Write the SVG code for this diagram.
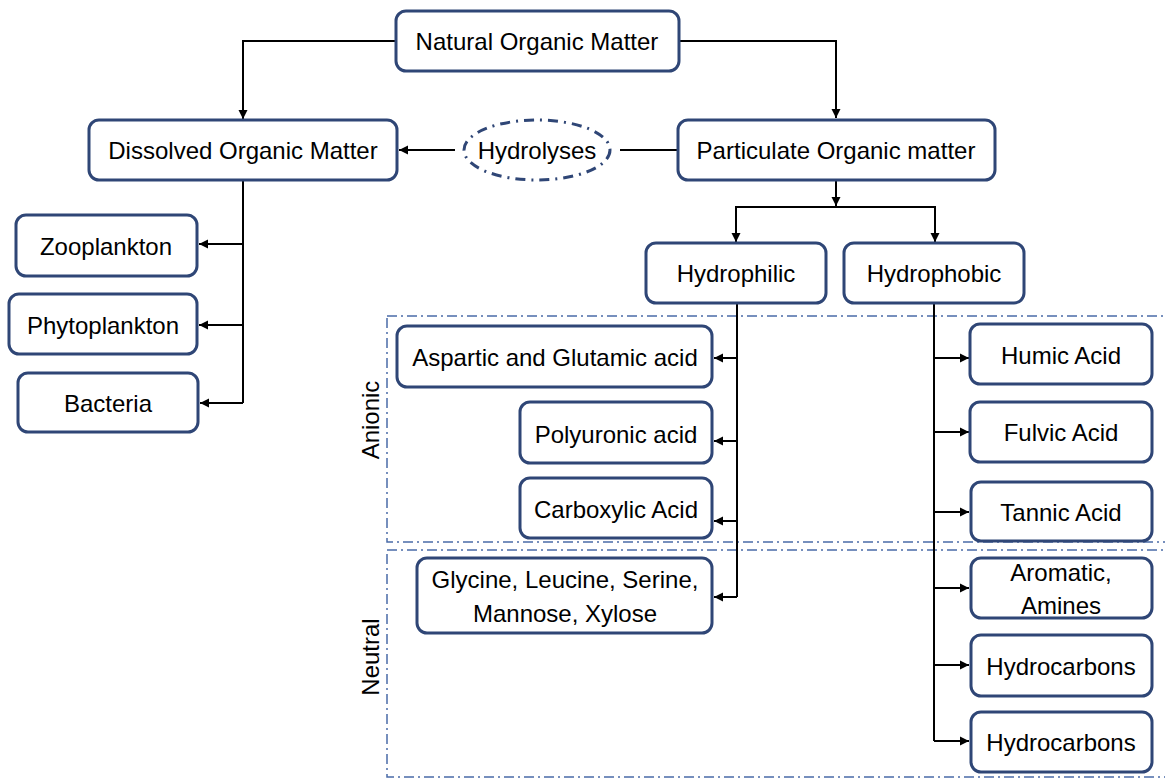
<svg xmlns="http://www.w3.org/2000/svg" width="1165" height="779" viewBox="0 0 1165 779">
<defs>
<marker id="ah" markerWidth="10" markerHeight="10" refX="9" refY="5" orient="auto" markerUnits="userSpaceOnUse">
<path d="M0,0.5 L9,5 L0,9.5 z" fill="#000"/>
</marker>
<style>
.box{fill:#fff;stroke:#2F4676;stroke-width:3}
.t{font-family:"Liberation Sans",Arial,sans-serif;font-size:24px;fill:#000;text-anchor:middle;dominant-baseline:central}
.c{fill:none;stroke:#000;stroke-width:2}
.a{marker-end:url(#ah)}
.zone{fill:none;stroke:#4A6BA8;stroke-width:1.5;stroke-dasharray:10,4,2,4}
</style>
</defs>
<rect width="1165" height="779" fill="#fff"/>
<g id="zones">
<rect class="zone" x="387" y="316" width="790" height="226"/>
<rect class="zone" x="387" y="550" width="790" height="227"/>
<text class="t" transform="translate(370,420) rotate(-90)">Anionic</text>
<text class="t" transform="translate(370,657) rotate(-90)">Neutral</text>
</g>
<g id="connectors">
<path class="c a" d="M396,41 H243 V119"/>
<path class="c a" d="M679,41 H836 V118"/>
<path class="c a" d="M455,150 H399"/>
<path class="c" d="M620,150 H678"/>
<path class="c a" d="M836,180 V206"/>
<path class="c a" d="M836,207 H736 V242"/>
<path class="c a" d="M836,207 H935 V242"/>
<path class="c" d="M243,180 V403"/>
<path class="c a" d="M243,244 H199"/>
<path class="c a" d="M243,325 H199"/>
<path class="c a" d="M243,403 H200"/>
<path class="c" d="M737,303 V597"/>
<path class="c a" d="M737,358 H714"/>
<path class="c a" d="M737,441 H714"/>
<path class="c a" d="M737,521 H714"/>
<path class="c a" d="M737,597 H714"/>
<path class="c" d="M934,303 V741"/>
<path class="c a" d="M934,358 H969"/>
<path class="c a" d="M934,432 H969"/>
<path class="c a" d="M934,512 H969"/>
<path class="c a" d="M934,588 H969"/>
<path class="c a" d="M934,665 H969"/>
<path class="c a" d="M934,741 H969"/>
</g>
<g id="nom"><rect class="box" x="396" y="11" width="283" height="60" rx="10"/><text class="t" x="537" y="41">Natural Organic Matter</text></g>
<g id="dom"><rect class="box" x="89" y="120" width="308" height="60" rx="10"/><text class="t" x="243" y="150">Dissolved Organic Matter</text></g>
<g id="hydrolyses"><ellipse cx="537" cy="150" rx="73" ry="30" fill="#fff" stroke="#2F4676" stroke-width="3" stroke-dasharray="10,6,2,6"/><text class="t" x="537" y="150">Hydrolyses</text></g>
<g id="pom"><rect class="box" x="678" y="120" width="317" height="60" rx="10"/><text class="t" x="836" y="150">Particulate Organic matter</text></g>
<g id="hydrophilic"><rect class="box" x="646" y="243" width="180" height="60" rx="10"/><text class="t" x="736" y="273">Hydrophilic</text></g>
<g id="hydrophobic"><rect class="box" x="844" y="243" width="180" height="60" rx="10"/><text class="t" x="934" y="273">Hydrophobic</text></g>
<g id="zooplankton"><rect class="box" x="16" y="215" width="181" height="61" rx="10"/><text class="t" x="106" y="246">Zooplankton</text></g>
<g id="phytoplankton"><rect class="box" x="9" y="294" width="188" height="60" rx="10"/><text class="t" x="103" y="325">Phytoplankton</text></g>
<g id="bacteria"><rect class="box" x="18" y="373" width="180" height="59" rx="10"/><text class="t" x="108" y="403">Bacteria</text></g>
<g id="aspartic"><rect class="box" x="397" y="326" width="315" height="61" rx="10"/><text class="t" x="555" y="357">Aspartic and Glutamic acid</text></g>
<g id="polyuronic"><rect class="box" x="520" y="402" width="192" height="61" rx="10"/><text class="t" x="616" y="434">Polyuronic acid</text></g>
<g id="carboxylic"><rect class="box" x="520" y="478" width="192" height="60" rx="10"/><text class="t" x="616" y="509">Carboxylic Acid</text></g>
<g id="glycine"><rect class="box" x="417" y="558" width="295" height="75" rx="10"/><text class="t" x="565" y="579">Glycine, Leucine, Serine,</text><text class="t" x="565" y="613">Mannose, Xylose</text></g>
<g id="humic"><rect class="box" x="970" y="324" width="182" height="60" rx="10"/><text class="t" x="1061" y="355">Humic Acid</text></g>
<g id="fulvic"><rect class="box" x="970" y="402" width="182" height="60" rx="10"/><text class="t" x="1061" y="432">Fulvic Acid</text></g>
<g id="tannic"><rect class="box" x="971" y="482" width="181" height="59" rx="10"/><text class="t" x="1061" y="512">Tannic Acid</text></g>
<g id="aromatic"><rect class="box" x="971" y="558" width="181" height="60" rx="10"/><text class="t" x="1061" y="572">Aromatic,</text><text class="t" x="1061" y="605">Amines</text></g>
<g id="hydrocarbons1"><rect class="box" x="971" y="635" width="181" height="61" rx="10"/><text class="t" x="1061" y="666">Hydrocarbons</text></g>
<g id="hydrocarbons2"><rect class="box" x="971" y="712" width="181" height="60" rx="10"/><text class="t" x="1061" y="742">Hydrocarbons</text></g>
</svg>
